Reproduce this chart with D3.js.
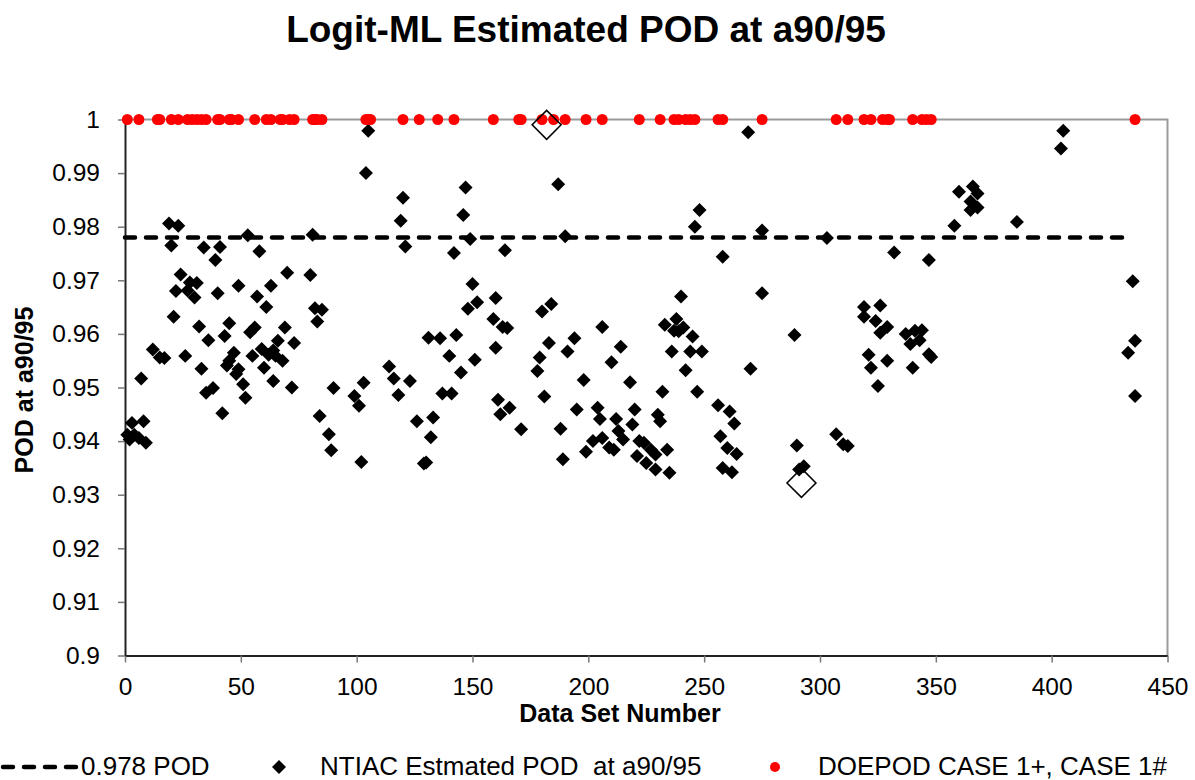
<!DOCTYPE html>
<html>
<head>
<meta charset="utf-8">
<script src="https://cdnjs.cloudflare.com/ajax/libs/d3/7.8.5/d3.min.js"></script>
<style>
  body { margin: 0; background: #fff; }
  svg { display: block; font-family: "Liberation Sans", Arial, sans-serif; }
</style>
</head>
<body>
<svg id="chart" width="1195" height="780"></svg>
<script>
// tick values and labels
var xTicks = [0, 50, 100, 150, 200, 250, 300, 350, 400, 450];
var yTicks = [0.9, 0.91, 0.92, 0.93, 0.94, 0.95, 0.96, 0.97, 0.98, 0.99, 1];
var yTickLabels = ["0.9", "0.91", "0.92", "0.93", "0.94", "0.95", "0.96", "0.97", "0.98", "0.99", "1"];

// 0.978 POD reference line (data set range it covers)
var refPOD = 0.978;
var refSets = [0, 434];

// NTIAC estimated POD at a90/95 : [data set, POD]
var ntiacPoints = [
  [105,.9979],[104,.9900],[19,.9806],[23,.9802],[20,.9765],[34,.9761],[41,.9762],[39,.9738],[53,.9784],[58,.9754],[81,.9785],
  [24,.9711],[28,.9696],[31,.9695],[27,.9681],[22,.9680],[30,.9668],[40,.9676],[49,.9690],[57,.9670],[63,.9690],[61,.9650],
  [70,.9714],[80,.9710],[82,.9648],[85,.9645],[83,.9623],[21,.9632],[32,.9614],[45,.9620],[36,.9588],[43,.9596],[54,.9603],
  [56,.9612],[69,.9612],[66,.9587],[73,.9583],[12,.9571],[15,.9556],[17,.9555],[26,.9559],[47,.9565],[45,.9550],[44,.9541],
  [49,.9534],[48,.9525],[55,.9559],[59,.9572],[62,.9561],[64,.9569],[65,.9559],[68,.9550],[60,.9537],[33,.9535],
  [7,.9517],[64,.9512],[72,.9500],[90,.9499],[103,.9509],[51,.9506],[52,.9481],[38,.9499],[35,.9490],[99,.9484],[101,.9466],
  [42,.9452],[84,.9447],[88,.9413],[89,.9383],[102,.9361],[3,.9434],[8,.9437],[1,.9412],[4,.9412],[6,.9406],[9,.9397],[2,.9403]
];
var ntiacPoints2 = [
  [147,.9873],[120,.9854],[187,.9879],[119,.9811],[146,.9822],[121,.9763],[149,.9777],[142,.9751],[164,.9756],[190,.9782],
  [150,.9693],[152,.9659],[148,.9647],[160,.9667],[159,.9628],[163,.9613],[165,.9611],[184,.9656],[180,.9642],[206,.9613],
  [131,.9593],[136,.9592],[143,.9598],[140,.9559],[151,.9552],[160,.9574],[183,.9583],[194,.9592],[191,.9567],[214,.9576],
  [210,.9547],[114,.9539],[116,.9517],[123,.9512],[145,.9528],[179,.9556],[178,.9531],[118,.9486],[137,.9489],[141,.9489],
  [161,.9477],[166,.9462],[162,.9450],[181,.9483],[198,.9514],[218,.9510],[126,.9437],[133,.9444],[132,.9407],[171,.9422],
  [188,.9423],[195,.9459],[129,.9358],[130,.9360],[189,.9366],[204,.9462],[205,.9441],[212,.9441],[213,.9419],[215,.9403],
  [202,.9400],[206,.9406],[209,.9388],[211,.9384],[199,.9380],[219,.9431],[220,.9459],[221,.9372],[222,.9400]
];
var ntiacPoints3 = [
  [269,.9976],[248,.9831],[246,.9800],[275,.9793],[303,.9779],[258,.9744],[332,.9752],[275,.9676],[240,.9670],
  [238,.9628],[233,.9617],[241,.9612],[237,.9606],[239,.9605],[245,.9595],[289,.9598],[236,.9567],[244,.9567],[249,.9567],
  [242,.9532],[270,.9535],[232,.9492],[247,.9492],[256,.9467],[261,.9455],[263,.9433],[230,.9449],[231,.9437],[257,.9409],
  [260,.9387],[264,.9376],[258,.9350],[262,.9342],[234,.9384],[235,.9341],[224,.9397],[227,.9384],[229,.9375],[225,.9359],
  [229,.9347],[290,.9392],[293,.9353],[291,.9347],[307,.9413],[310,.9394],[312,.9391],[319,.9650],[326,.9653],[319,.9632],
  [324,.9624],[329,.9613],[326,.9602],[321,.9561],[329,.9550],[322,.9537],[325,.9503],
  [405,.9979],[404,.9946],[360,.9865],[366,.9875],[368,.9862],[365,.9847],[368,.9836],[365,.9831],[358,.9802],[385,.9809],
  [347,.9738],[435,.9698],[337,.9600],[341,.9606],[344,.9607],[339,.9581],[343,.9588],[347,.9562],[348,.9557],[340,.9537],
  [436,.9587],[433,.9565],[436,.9484]
];

// DOEPOD CASE 1+, CASE 1# (all at POD = 1)
var doepodSets = [1, 6, 14, 15, 20, 23, 27, 29, 31, 33, 35, 40, 41, 45, 46, 49, 56, 61, 63, 67, 68, 71, 73, 81, 82, 83, 85,
  104, 105, 106, 120, 127, 135, 142, 159, 170, 171, 180, 185, 190, 199, 206, 222, 231, 237, 239, 242, 244, 246, 256, 258,
  275, 307, 312, 319, 322, 327, 329, 330, 340, 344, 346, 348, 436];
var doepodPOD = 1;

// highlighted (open diamond) points
var highlightPoints = [[182, 0.999], [292, 0.9322]];

var width = 1195,
    height = 780;

var svg = d3.select("#chart");

var x = d3.scaleLinear()
  .domain([0, 450])
  .range([125, 1167.5]);

var y = d3.scaleLinear()
  .domain([0.9, 1])
  .range([655.5, 119.5]);

svg.append("rect")
  .attr("width", width)
  .attr("height", height)
  .attr("fill", "#fff");

// grey frame top / right
svg.append("path")
  .attr("d", "M" + x(0) + "," + y(1) + "H" + x(450) + "V" + y(0.9))
  .attr("fill", "none")
  .attr("stroke", "#9a9a9a")
  .attr("stroke-width", 2);

// axes
var xAxis = svg.append("g")
  .attr("transform", "translate(0," + y(0.9) + ")")
  .call(d3.axisBottom(x).tickValues(xTicks).tickSize(7).tickPadding(15).tickSizeOuter(0));

var yAxis = svg.append("g")
  .attr("transform", "translate(" + x(0) + ",0)")
  .call(d3.axisLeft(y).tickValues(yTicks).tickSize(7).tickPadding(18).tickSizeOuter(0)
    .tickFormat(function(d, i) { return yTickLabels[i]; }));

[xAxis, yAxis].forEach(function(a) {
  a.select(".domain").attr("stroke", "#222").attr("stroke-width", 2);
  a.selectAll(".tick line").attr("stroke", "#777").attr("stroke-width", 1.5);
  a.selectAll(".tick text")
    .attr("fill", "#000")
    .style("font-size", "24.5px")
    .style("font-family", "Liberation Sans, Arial, sans-serif");
});

// reference line
var line = d3.line()
  .x(function(d) { return x(d); })
  .y(function(d) { return y(refPOD); });

svg.append("path")
  .datum(refSets)
  .attr("d", line)
  .attr("fill", "none")
  .attr("stroke", "#000")
  .attr("stroke-width", 4.5)
  .attr("stroke-linecap", "round")
  .attr("stroke-dasharray", "10,11");

// NTIAC diamonds
var diamond = d3.symbol().type(d3.symbolSquare).size(98);
var allNtiac = ntiacPoints.concat(ntiacPoints2, ntiacPoints3);

svg.append("g").selectAll("path")
  .data(allNtiac)
  .enter().append("path")
    .attr("d", diamond)
    .attr("transform", function(d) { return "translate(" + x(d[0]) + "," + y(d[1]) + ") rotate(45)"; })
    .attr("fill", "#000");

// DOEPOD dots
svg.append("g").selectAll("circle")
  .data(doepodSets)
  .enter().append("circle")
    .attr("cx", function(d) { return x(d); })
    .attr("cy", y(doepodPOD))
    .attr("r", 5.5)
    .attr("fill", "#ff0000");

// open diamonds
svg.append("g").selectAll("path")
  .data(highlightPoints)
  .enter().append("path")
    .attr("d", d3.symbol().type(d3.symbolSquare).size(420))
    .attr("transform", function(d) { return "translate(" + x(d[0]) + "," + y(d[1]) + ") rotate(45)"; })
    .attr("fill", "none")
    .attr("stroke", "#000")
    .attr("stroke-width", 1.5);

// title + axis labels
svg.append("text")
  .attr("x", 586)
  .attr("y", 42)
  .attr("text-anchor", "middle")
  .style("font-size", "37px")
  .style("font-weight", "bold")
  .text("Logit-ML Estimated POD at a90/95");

svg.append("text")
  .attr("x", 620)
  .attr("y", 722)
  .attr("text-anchor", "middle")
  .style("font-size", "25px")
  .style("font-weight", "bold")
  .text("Data Set Number");

svg.append("text")
  .attr("transform", "translate(33,390) rotate(-90)")
  .attr("text-anchor", "middle")
  .style("font-size", "25px")
  .style("font-weight", "bold")
  .text("POD at a90/95");

// legend
var legendY = 767;

svg.append("line")
  .attr("x1", 3).attr("x2", 76)
  .attr("y1", legendY).attr("y2", legendY)
  .attr("stroke", "#000")
  .attr("stroke-width", 4.5)
  .attr("stroke-linecap", "round")
  .attr("stroke-dasharray", "10,11");

svg.append("path")
  .attr("d", diamond)
  .attr("transform", "translate(279," + legendY + ") rotate(45)")
  .attr("fill", "#000");

svg.append("circle")
  .attr("cx", 775)
  .attr("cy", legendY)
  .attr("r", 5)
  .attr("fill", "#ff0000");

var legendText = [
  {x: 81, label: "0.978 POD"},
  {x: 320, label: "NTIAC Estmated POD  at a90/95"},
  {x: 818, label: "DOEPOD CASE 1+, CASE 1#"}
];

svg.selectAll("text.legend")
  .data(legendText)
  .enter().append("text")
    .attr("class", "legend")
    .attr("x", function(d) { return d.x; })
    .attr("y", 775)
    .style("font-size", "26px")
    .style("white-space", "pre")
    .text(function(d) { return d.label; });
</script>
</body>
</html>
